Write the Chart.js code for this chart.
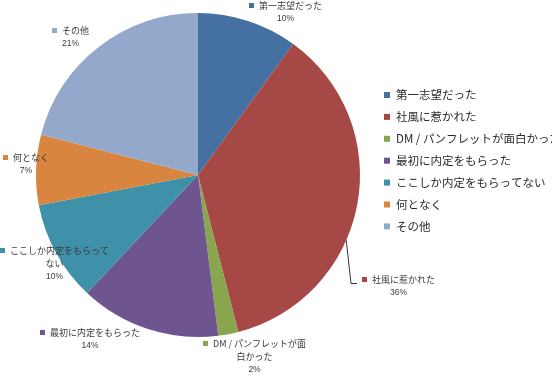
<!DOCTYPE html>
<html>
<head>
<meta charset="utf-8">
<script src="https://cdn.jsdelivr.net/npm/chart.js@4"></script>
<style>
  body { margin: 0; background: #fff; }
</style>
</head>
<body>
<canvas id="myChart" width="552" height="376"></canvas>
<script>
var labels = ['第一志望だった', '社風に惹かれた', 'DM / パンフレットが面白かった', '最初に内定をもらった', 'ここしか内定をもらってない', '何となく', 'その他'];
var values = [10, 36, 2, 14, 10, 7, 21];
var colors = ['#4570A2', '#A64846', '#89A54E', '#6E5590', '#3E91A8', '#D9843F', '#94A8CB'];

// where each data label sits: marker left x, first line center y
var labelPos = [
  {x: 249, y: 6},
  {x: 362, y: 280, leader: 0.6},
  {x: 203, y: 344, lines: ['DM / パンフレットが面', '白かった']},
  {x: 40, y: 333},
  {x: 0, y: 251, lines: ['ここしか内定をもらって', 'ない']},
  {x: 3, y: 158},
  {x: 52, y: 31}
];

var jpFont = '"Noto Sans CJK JP", "Liberation Sans", sans-serif';

var labelPlugin = {
  id: 'pieLabels',
  afterDraw: function(chart) {
    var c = chart.ctx;
    var meta = chart.getDatasetMeta(0);
    var total = values.reduce(function(a, b) { return a + b; }, 0);
    c.save();
    c.textBaseline = 'middle';
    meta.data.forEach(function(arc, i) {
      var p = labelPos[i];
      var lines = p.lines || [labels[i]];
      c.font = '9px ' + jpFont;
      var w0 = 10 + c.measureText(lines[0]).width;
      var cx = p.x + w0 / 2;
      c.fillStyle = colors[i];
      c.fillRect(p.x, p.y - 3, 5, 5);
      c.fillStyle = '#3a3a3a';
      c.textAlign = 'left';
      c.fillText(lines[0], p.x + 10, p.y);
      c.textAlign = 'center';
      for (var k = 1; k < lines.length; k++) {
        c.fillText(lines[k], cx, p.y + 13 * k);
      }
      c.font = '8.5px "Liberation Sans", sans-serif';
      var pct = Math.round(values[i] / total * 100) + '%';
      c.fillText(pct, cx, p.y + 13 * lines.length - 0.5);

      if (p.leader) {
        var props = arc.getProps(['x', 'y', 'startAngle', 'endAngle', 'outerRadius'], true);
        var a = props.startAngle + (props.endAngle - props.startAngle) * p.leader;
        var sx = props.x + Math.cos(a) * props.outerRadius;
        var sy = props.y + Math.sin(a) * props.outerRadius;
        c.strokeStyle = '#333';
        c.lineWidth = 1;
        c.beginPath();
        c.moveTo(sx, sy);
        c.lineTo(p.x - 11, p.y + 3.5);
        c.lineTo(p.x - 5, p.y + 3.5);
        c.stroke();
      }
    });

    // legend on the right
    var lx = 384, ly = 95, step = 21.9;
    c.textAlign = 'left';
    c.font = '11.5px ' + jpFont;
    labels.forEach(function(t, i) {
      var y = ly + step * i;
      c.fillStyle = colors[i];
      c.fillRect(lx, y - 3, 6, 6);
      c.fillStyle = '#2a2a2a';
      c.fillText(t, lx + 12, y);
    });
    c.restore();
  }
};

var ctx = document.getElementById('myChart').getContext('2d');
var myChart = new Chart(ctx, {
  type: 'pie',
  data: {
    labels: labels,
    datasets: [{
      data: values,
      backgroundColor: colors,
      borderWidth: 0
    }]
  },
  options: {
    responsive: false,
    animation: false,
    layout: {
      padding: {top: 13, bottom: 39, left: 36, right: 192}
    },
    plugins: {
      legend: {display: false},
      tooltip: {enabled: false}
    }
  },
  plugins: [labelPlugin]
});
</script>
</body>
</html>
